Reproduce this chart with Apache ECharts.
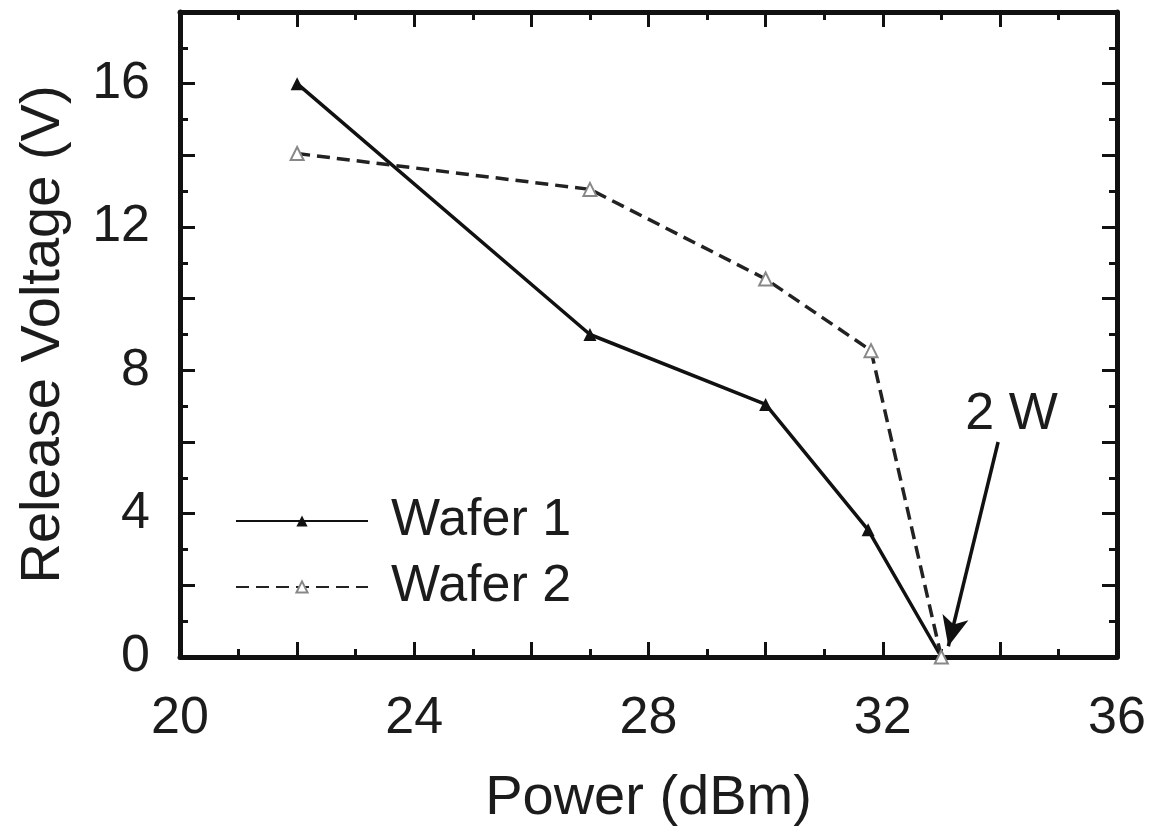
<!DOCTYPE html>
<html><head><meta charset="utf-8">
<script src="https://cdn.jsdelivr.net/npm/echarts@6/dist/echarts.min.js"></script>
<style>html,body{margin:0;padding:0;background:#fff}#c{width:1152px;height:832px}</style>
</head><body><div id="c"></div>
<script>
const wafer1X = [22, 27, 30, 31.75, 33];
const wafer1Y = [16, 9, 7.05, 3.55, 0];
const wafer2X = [22, 27, 30, 31.8, 33];
const wafer2Y = [14.05, 13.05, 10.55, 8.55, 0];
const xTicks = [20, 24, 28, 32, 36];
const yTicks = [0, 4, 8, 12, 16];
const annotText = '2 W';
const arrowFrom = [33.97, 6.0];
const arrowTo = [33.12, 0.3];
const annotPos = [34.2, 6.75];

const FONT = '"Liberation Sans", Arial, sans-serif';
const AX = '#111';
function axisCommon(showLabel, isX) {
  return {
    type: 'value',
    min: isX ? 20 : 0, max: isX ? 36 : 18, interval: 2,
    axisLine: { show: true, onZero: false, lineStyle: { color: AX, width: 5 } },
    axisTick: { show: true, inside: true, length: 15, lineStyle: { color: AX, width: 3 } },
    minorTick: { show: true, splitNumber: 2, length: 8, lineStyle: { color: AX, width: 3 } },
    splitLine: { show: false },
    axisLabel: {
      show: showLabel, fontFamily: FONT, fontSize: 52, color: '#1c1c1c',
      margin: isX ? 36 : 30,
      formatter: v => ((isX ? xTicks : yTicks).includes(v) ? String(v) : '')
    }
  };
}
const chart = echarts.init(document.getElementById('c'));
chart.setOption({
  animation: false,
  backgroundColor: '#fff',
  grid: { left: 180, top: 12, right: 35, bottom: 167 },
  xAxis: [
    Object.assign(axisCommon(true, true), {
      position: 'bottom', name: 'Power (dBm)', nameLocation: 'middle', nameGap: 114,
      nameTextStyle: { fontFamily: FONT, fontSize: 56, color: '#1c1c1c' }
    }),
    Object.assign(axisCommon(false, true), { position: 'top' })
  ],
  yAxis: [
    Object.assign(axisCommon(true, false), {
      position: 'left', name: 'Release Voltage (V)', nameLocation: 'middle', nameGap: 108,
      nameTextStyle: { fontFamily: FONT, fontSize: 56, color: '#1c1c1c' }
    }),
    Object.assign(axisCommon(false, false), { position: 'right' })
  ],
  legend: {
    orient: 'vertical', left: 230, top: 490, itemWidth: 132, itemHeight: 14, itemGap: 14,
    textStyle: { fontFamily: FONT, fontSize: 52, color: '#1c1c1c', padding: [0, 0, 0, 18] },
    data: ['Wafer 1', 'Wafer 2']
  },
  series: [
    {
      name: 'Wafer 1', type: 'line',
      data: wafer1X.map((x, i) => [x, wafer1Y[i]]),
      symbol: 'triangle', symbolSize: 13,
      itemStyle: { color: '#111' },
      lineStyle: { color: '#111', width: 3.5 },
      markLine: {
        silent: true, symbol: ['none', 'arrow'], symbolSize: [20, 30],
        lineStyle: { color: '#111', width: 3.5, type: 'solid' },
        label: { show: false },
        data: [[{ coord: arrowFrom }, { coord: arrowTo }]]
      },
      markPoint: {
        silent: true, symbol: 'circle', symbolSize: 1,
        itemStyle: { color: 'rgba(0,0,0,0)' },
        label: { show: true, position: 'inside', formatter: annotText, fontFamily: FONT, fontSize: 52, color: '#1c1c1c' },
        data: [{ coord: annotPos }]
      }
    },
    {
      name: 'Wafer 2', type: 'line',
      data: wafer2X.map((x, i) => [x, wafer2Y[i]]),
      symbol: 'triangle', symbolSize: 13,
      itemStyle: { color: '#fff', borderColor: '#888', borderWidth: 2 },
      lineStyle: { color: '#222', width: 3.5, type: [13, 7] }
    }
  ]
});
</script></body></html>
